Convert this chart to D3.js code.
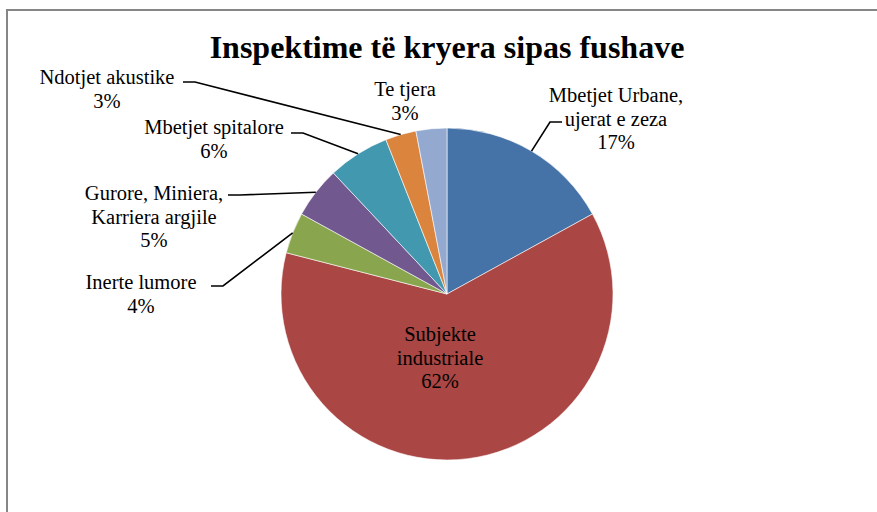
<!DOCTYPE html>
<html>
<head>
<meta charset="utf-8">
<script src="https://cdn.jsdelivr.net/npm/d3@7"></script>
<style>
  body { margin: 0; background: #fff; }
  svg text { font-family: "Liberation Serif", "Times New Roman", serif; fill: #000; }
</style>
</head>
<body>
<svg></svg>
<script>
//* data
const categories = ["Mbetjet Urbane, ujerat e zeza", "Subjekte industriale", "Inerte lumore", "Gurore, Miniera, Karriera argjile", "Mbetjet spitalore", "Ndotjet akustike", "Te tjera"];
const values = [17, 62, 4, 5, 6, 3, 3];
const labelLines = [["Mbetjet Urbane,", "ujerat e zeza"], ["Subjekte", "industriale"], ["Inerte lumore"], ["Gurore, Miniera,", "Karriera argjile"], ["Mbetjet spitalore"], ["Ndotjet akustike"], ["Te tjera"]];
const colors = ["#4572A7", "#AA4643", "#89A54E", "#71588F", "#4198AF", "#DB843D", "#93A9CF"];

//* label layout: text center, first baseline, elbow of leader (null = none)
const labelPos = [
	{ x: 616, y: 102, elbow: [550, 122], side: 1 },
	{ x: 440, y: 341, elbow: null },
	{ x: 141, y: 289, elbow: [223, 286], side: -1 },
	{ x: 154, y: 200, elbow: [240, 195], side: -1 },
	{ x: 214, y: 134, elbow: [303, 133], side: -1 },
	{ x: 107, y: 84, elbow: [195, 82], side: -1 },
	{ x: 405, y: 96, elbow: null }
];

const width = 877, height = 512;
const svg = d3.select("svg").attr("width", width).attr("height", height);

//* frame
svg.append("rect")
	.attr("x", 7).attr("y", 10)
	.attr("width", width + 20).attr("height", height + 20)
	.attr("fill", "none").attr("stroke", "#868686").attr("stroke-width", 2);

//* title
svg.append("text")
	.attr("x", 447).attr("y", 58)
	.attr("text-anchor", "middle")
	.style("font-size", "32px").style("font-weight", "bold")
	.text("Inspektime të kryera sipas fushave");

const cx = 447, cy = 294, r = 166;
const pie = d3.pie().sort(null).value((d) => d.value);
const arcs = pie(categories.map((c, i) => ({ name: c, value: values[i], i })));
const arc = d3.arc().innerRadius(0).outerRadius(r);

const g = svg.append("g").attr("transform", `translate(${cx},${cy})`);
g.selectAll("path.slice")
	.data(arcs)
	.enter()
	.append("path")
	.attr("class", "slice")
	.attr("d", arc)
	.attr("fill", (d) => colors[d.data.i])
	.attr("stroke", "#fff").attr("stroke-width", 0.6);

//* leader lines
arcs.forEach((d) => {
	const p = labelPos[d.data.i];
	if (!p.elbow) return;
	const a = (d.startAngle + d.endAngle) / 2;
	const end = [cx + r * Math.sin(a), cy - r * Math.cos(a)];
	const start = [p.elbow[0] + p.side * 12, p.elbow[1]];
	svg.append("path")
		.attr("d", d3.line()([start, p.elbow, end]))
		.attr("fill", "none").attr("stroke", "#000").attr("stroke-width", 1.6);
});

//* labels
arcs.forEach((d) => {
	const p = labelPos[d.data.i];
	const lines = labelLines[d.data.i].concat([d.data.value + "%"]);
	const t = svg.append("text")
		.attr("text-anchor", "middle")
		.style("font-family", "'Liberation Serif', serif")
		.style("font-size", "20.5px");
	lines.forEach((l, k) => {
		t.append("tspan").attr("x", p.x).attr("y", p.y + k * 23.5).text(l);
	});
});
</script>
</body>
</html>
